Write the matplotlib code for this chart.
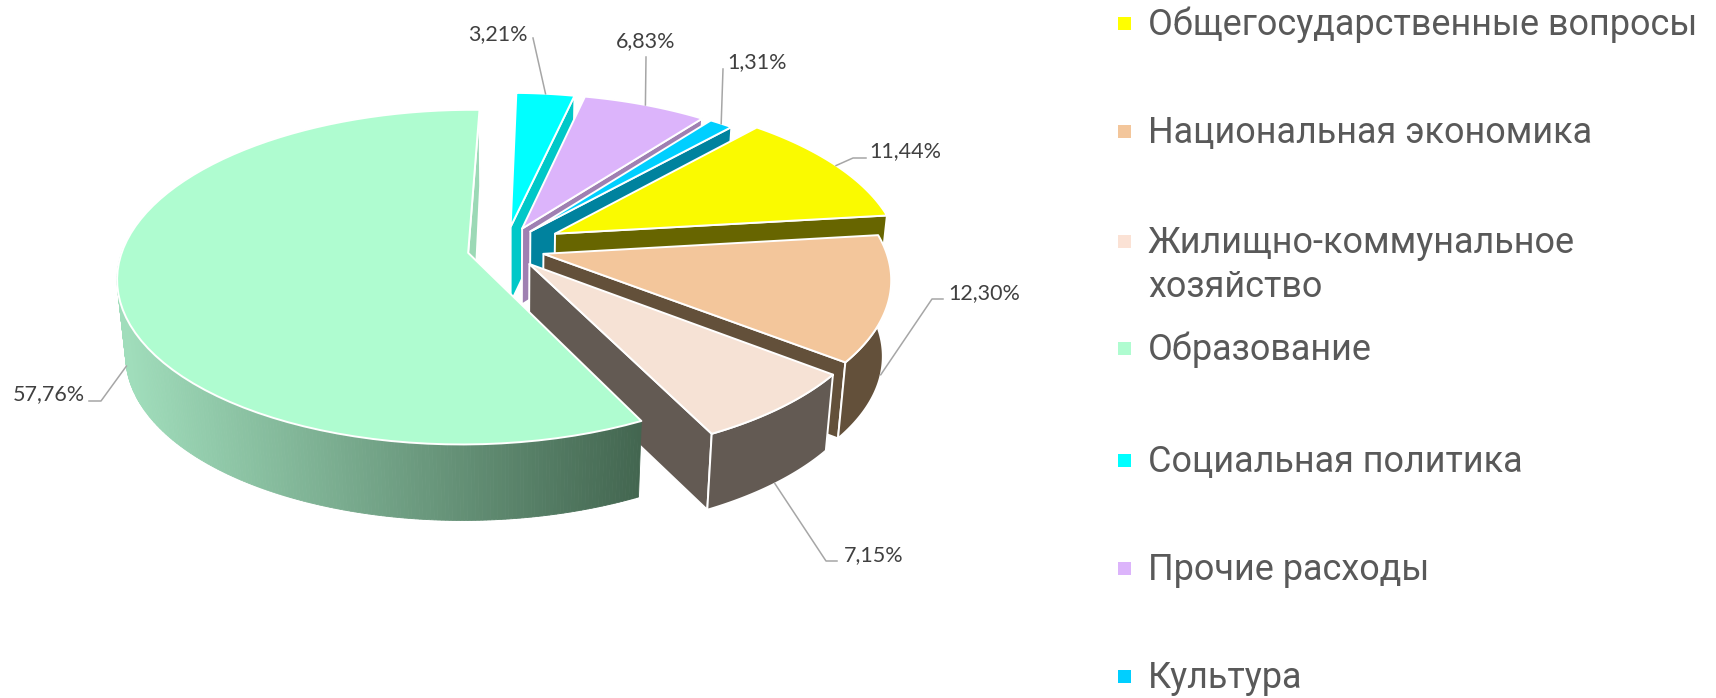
import numpy as np
import matplotlib
matplotlib.use("Agg")
import matplotlib.pyplot as plt

# data
categories = ["Общегосударственные вопросы", "Национальная экономика",
              "Жилищно-коммунальное\nхозяйство", "Образование",
              "Социальная политика", "Прочие расходы", "Культура"]
shares = [11.44, 12.30, 7.15, 57.76, 3.21, 6.83, 1.31]
share_labels = ["11,44%", "12,30%", "7,15%", "57,76%", "3,21%", "6,83%", "1,31%"]

# colours
top_colors = ["#FAFA00", "#F3C69B", "#F6E2D5", "#AFFCD0", "#00FFFF", "#DCB4FB", "#00CFFF"]
wall_colors = ["#676500", "#63503A", "#635A53", "#9CD9B6", "#00C8C8", "#9F80B2", "#00829E"]
legend_colors = ["#FFFF00", "#F3C69B", "#FBE2D5", "#AFFCD0", "#00FFFF", "#DCB4FB", "#00CFFF"]

# projection of the exploded pie, in pixels
start_angle = 42.1
cx, cy = 506, 248
rx, ry = 345, 162.4
persp = 0.1446
explode = [0.162, 0.112, 0.105, 0.112, 0.112, 0.112, 0.112]
slice_scale = [1.0, 0.99, 0.99, 1.0, 0.975, 0.98, 0.985]
explode_gain = 1.2
depth = 76
vx, shrink = 510, 0.978

# label layout, in pixels
label_pos = [(905, 151), (984, 293), (874, 555), (49, 394), (498, 34), (646, 41), (757, 62)]
anchor_drop = [0, 1, 1, 1, 0, 0, 0]
leader_rest = [[(853, 158), (866, 158)], [(932, 299), (943, 299)], [(826, 561), (837, 561)],
               [(101, 401), (89, 401)], [(533, 38)], [(646, 57)], [(723, 69)]]
legend_y = [23, 131, 241, 348, 460, 568, 676]


def project(th, b, e, z=0.0, scale=1.0):
    # th and b are clockwise from 12 o'clock, in degrees; th may be None for the apex
    X = e * np.sin(np.radians(b))
    Y = e * explode_gain * np.cos(np.radians(b))
    if th is not None:
        X = X + scale * np.sin(np.radians(th))
        Y = Y + scale * np.cos(np.radians(th))
    f = 1 / (1 + persp * Y)
    x = cx + rx * X * f
    y = cy - ry * Y * f
    # the underside sits lower and a little narrower
    x = x + (vx + (x - vx) * shrink - x) * z
    y = y + depth * z
    return x, y


def lower_wall(top, bottom):
    return tuple(np.concatenate([np.atleast_1d(t), np.atleast_1d(u)[::-1]]) for t, u in zip(top, bottom))


fig = plt.figure(figsize=(17.16, 6.98), dpi=100)
ax = fig.add_axes([0, 0, 1, 1])
ax.set_xlim(0, 1716)
ax.set_ylim(698, 0)
ax.axis("off")

spans = np.array(shares) / sum(shares) * 360
ends = start_angle + np.cumsum(spans)
starts = ends - spans
mids = (starts + ends) / 2

# back slices first, the big one last, so it hides what is behind it
draw_order = [4, 5, 6, 0, 1, 2, 3]
edge = dict(edgecolor="white", linewidth=1.4, joinstyle="round")
for i in draw_order:
    a, b_, m, e, sc = starts[i], ends[i], mids[i], explode[i], slice_scale[i]
    thetas = np.linspace(a, b_, 80)

    # cut face on the clockwise side, only where it turns towards the viewer
    if -np.sin(np.radians(b_)) < 0:
        corner_t = project(b_, m, e, 0, sc)
        corner_b = project(b_, m, e, 1, sc)
        apex_t = project(None, m, e)
        apex_b = project(None, m, e, 1)
        shift = 4 if i == 3 else 0
        ax.fill([apex_t[0], corner_t[0], corner_b[0], apex_b[0] + shift],
                [apex_t[1], corner_t[1], corner_b[1], apex_b[1]],
                facecolor=wall_colors[i], **edge)

    # outer wall on the near half of the rim
    near = thetas[(np.cos(np.radians(thetas)) < 0.05) & (thetas < 292)]
    if len(near) > 1:
        if i == 3:
            # shaded from left to right, strip by strip
            light = np.array([160, 221, 187]) / 255
            dark = np.array([67, 102, 80]) / 255
            fine = np.linspace(near[0], near[-1], 220)
            for t0, t1 in zip(fine[:-1], fine[1:]):
                pair = np.array([t0, t1])
                xs, ys = lower_wall(project(pair, m, e, 0, sc), project(pair, m, e, 1, sc))
                w = np.clip((xs.mean() - 130) / (640 - 130), 0, 1)
                col = light + (dark - light) * w
                ax.fill(xs, ys, facecolor=col, edgecolor=col, linewidth=0.6)
        else:
            xs, ys = lower_wall(project(near, m, e, 0, sc), project(near, m, e, 1, sc))
            ax.fill(xs, ys, facecolor=wall_colors[i], **edge)

    # top face
    tx, ty = project(thetas, m, e, 0, sc)
    ax_, ay_ = project(None, m, e)
    ax.fill(np.append(ax_, tx), np.append(ay_, ty), facecolor=top_colors[i], **edge)

# data labels with their leader lines
for i in range(len(shares)):
    ax_x, ax_y = project(mids[i], mids[i], explode[i], anchor_drop[i], slice_scale[i])
    pts = [(ax_x, ax_y)] + leader_rest[i]
    ax.plot([p[0] for p in pts], [p[1] for p in pts], color="#A6A6A6", linewidth=1.1, zorder=5)
    ax.text(label_pos[i][0], label_pos[i][1], share_labels[i], family="Lato", fontsize=15.5,
            color="#404040", ha="center", va="center", zorder=6)

# legend
for name, col, y in zip(categories, legend_colors, legend_y):
    ax.fill([1118, 1131, 1131, 1118], [y - 6.5, y - 6.5, y + 6.5, y + 6.5], facecolor=col, edgecolor="none")
    # baseline of the last line
    ax.text(1148, y + 12 + 44 * name.count("\n"), name, family="Roboto", fontsize=25.9, color="#595959",
            ha="left", va="baseline", linespacing=1.3)

fig.savefig("out.png", dpi=100)
